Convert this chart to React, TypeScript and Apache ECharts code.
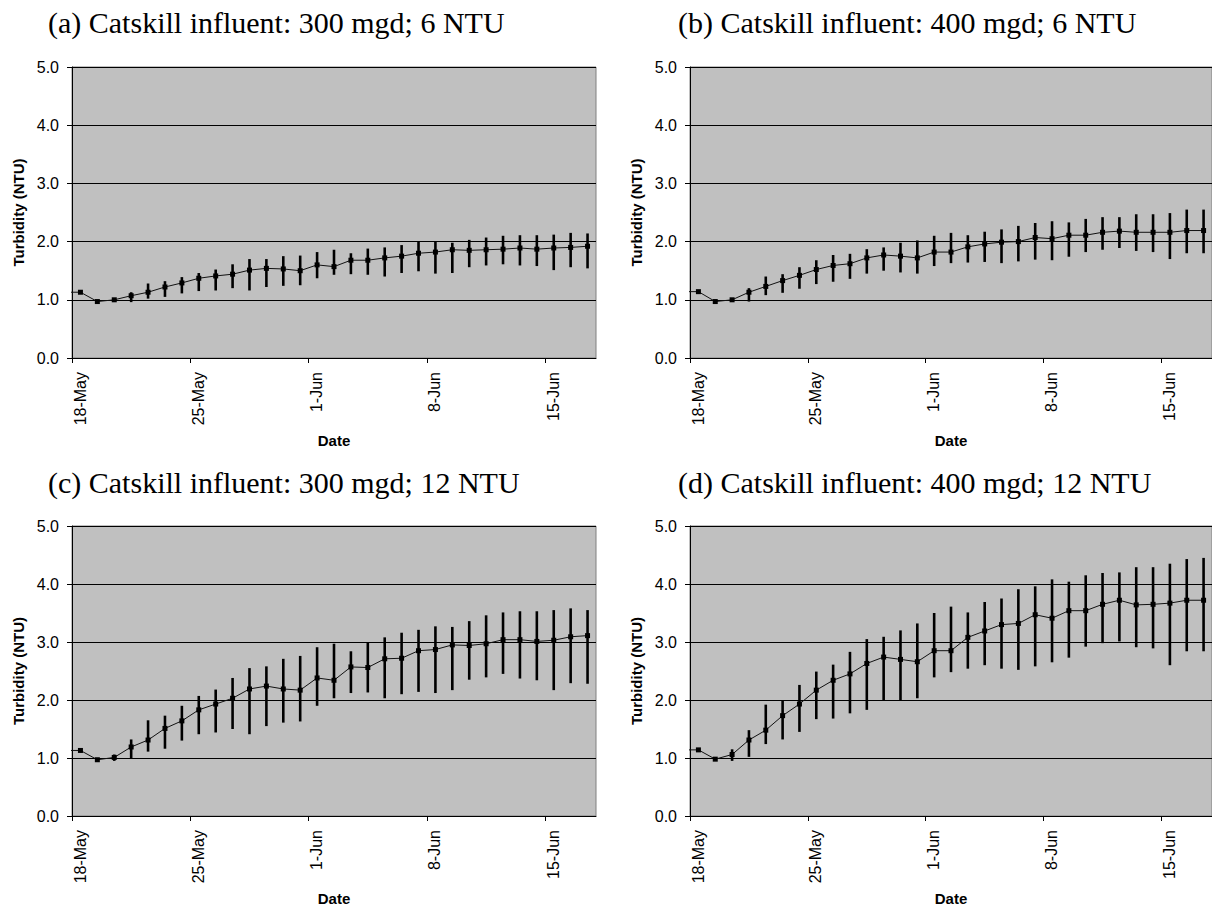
import { useEffect, useRef } from 'react';
import * as echarts from 'echarts';

// Dates: first entry (17-May) lies left of the axis and is clipped, giving the lead-in segment
const dates = [
  '17-May', '18-May', '19-May', '20-May', '21-May', '22-May', '23-May', '24-May', '25-May', '26-May',
  '27-May', '28-May', '29-May', '30-May', '31-May', '1-Jun', '2-Jun', '3-Jun', '4-Jun', '5-Jun',
  '6-Jun', '7-Jun', '8-Jun', '9-Jun', '10-Jun', '11-Jun', '12-Jun', '13-Jun', '14-Jun', '15-Jun',
  '16-Jun', '17-Jun',
];
const tickDays = [0, 7, 14, 21, 28];
const tickLabels = ['18-May', '25-May', '1-Jun', '8-Jun', '15-Jun'];

const titles = [
  '(a) Catskill influent: 300 mgd; 6 NTU',
  '(b) Catskill influent: 400 mgd; 6 NTU',
  '(c) Catskill influent: 300 mgd; 12 NTU',
  '(d) Catskill influent: 400 mgd; 12 NTU',
];

// (a) 300 mgd; 6 NTU
const aMean = [1.13, 1.13, 0.97, 1.0, 1.07, 1.13, 1.22, 1.29, 1.37, 1.41, 1.44, 1.51, 1.54, 1.53, 1.5, 1.6, 1.57, 1.68, 1.68, 1.72, 1.75, 1.8, 1.82, 1.86, 1.85, 1.86, 1.87, 1.89, 1.87, 1.89, 1.9, 1.92];
const aHigh = [1.14, 0.98, 1.02, 1.13, 1.28, 1.32, 1.39, 1.46, 1.52, 1.61, 1.7, 1.7, 1.75, 1.76, 1.82, 1.86, 1.8, 1.88, 1.9, 1.94, 2.0, 2.0, 1.98, 2.03, 2.07, 2.1, 2.11, 2.11, 2.12, 2.15, 2.14];
const aLow = [1.12, 0.96, 0.98, 0.96, 1.02, 1.05, 1.11, 1.15, 1.16, 1.2, 1.16, 1.22, 1.24, 1.25, 1.37, 1.43, 1.44, 1.43, 1.4, 1.46, 1.49, 1.45, 1.46, 1.56, 1.59, 1.61, 1.59, 1.58, 1.51, 1.56, 1.54];

// (b) 400 mgd; 6 NTU
const bMean = [1.14, 1.14, 0.97, 1.0, 1.13, 1.23, 1.33, 1.42, 1.52, 1.59, 1.62, 1.72, 1.77, 1.75, 1.72, 1.82, 1.82, 1.91, 1.96, 1.99, 2.0, 2.07, 2.05, 2.11, 2.11, 2.16, 2.18, 2.16, 2.16, 2.16, 2.19, 2.19];
const bHigh = [1.15, 0.98, 1.03, 1.2, 1.4, 1.44, 1.56, 1.68, 1.77, 1.79, 1.87, 1.9, 1.98, 2.02, 2.1, 2.15, 2.11, 2.17, 2.21, 2.27, 2.32, 2.35, 2.33, 2.39, 2.42, 2.42, 2.47, 2.47, 2.49, 2.55, 2.55];
const bLow = [1.13, 0.96, 0.98, 0.97, 1.08, 1.12, 1.19, 1.27, 1.31, 1.36, 1.45, 1.5, 1.47, 1.45, 1.58, 1.63, 1.64, 1.65, 1.63, 1.66, 1.69, 1.68, 1.74, 1.82, 1.86, 1.89, 1.84, 1.82, 1.7, 1.8, 1.8];

// (c) 300 mgd; 12 NTU
const cMean = [1.13, 1.13, 0.97, 1.01, 1.19, 1.31, 1.51, 1.64, 1.83, 1.93, 2.03, 2.19, 2.24, 2.19, 2.17, 2.38, 2.34, 2.57, 2.56, 2.71, 2.72, 2.85, 2.87, 2.95, 2.94, 2.97, 3.04, 3.04, 3.01, 3.03, 3.09, 3.11];
const cHigh = [1.14, 0.98, 1.06, 1.32, 1.65, 1.73, 1.9, 2.07, 2.18, 2.38, 2.55, 2.58, 2.71, 2.76, 2.91, 2.97, 2.84, 2.99, 3.08, 3.16, 3.21, 3.27, 3.26, 3.36, 3.46, 3.51, 3.53, 3.53, 3.55, 3.58, 3.55];
const cLow = [1.12, 0.96, 0.95, 0.99, 1.11, 1.16, 1.3, 1.41, 1.44, 1.5, 1.41, 1.55, 1.61, 1.63, 1.9, 2.03, 2.12, 2.13, 2.03, 2.1, 2.14, 2.12, 2.17, 2.35, 2.39, 2.45, 2.37, 2.34, 2.17, 2.29, 2.28];

// (d) 400 mgd; 12 NTU
const dMean = [1.14, 1.14, 0.98, 1.06, 1.31, 1.48, 1.73, 1.93, 2.17, 2.34, 2.45, 2.63, 2.74, 2.7, 2.66, 2.85, 2.85, 3.08, 3.19, 3.3, 3.32, 3.47, 3.41, 3.54, 3.54, 3.65, 3.72, 3.64, 3.65, 3.67, 3.72, 3.72];
const dHigh = [1.15, 0.99, 1.15, 1.48, 1.92, 1.99, 2.26, 2.49, 2.61, 2.83, 3.05, 3.09, 3.2, 3.32, 3.5, 3.61, 3.51, 3.69, 3.75, 3.91, 3.96, 4.08, 4.04, 4.15, 4.19, 4.2, 4.29, 4.29, 4.35, 4.43, 4.45];
const dLow = [1.13, 0.97, 0.95, 1.02, 1.24, 1.32, 1.45, 1.67, 1.68, 1.77, 1.83, 2.0, 2.0, 2.03, 2.39, 2.48, 2.54, 2.6, 2.54, 2.52, 2.58, 2.65, 2.73, 2.92, 2.98, 3.01, 2.91, 2.89, 2.6, 2.84, 2.84];

const means = [aMean, bMean, cMean, dMean];
const highs = [aHigh, bHigh, cHigh, dHigh];
const lows = [aLow, bLow, cLow, dLow];

const SANS = '"Liberation Sans", Arial, sans-serif';
const SERIF = '"Liberation Serif", "Times New Roman", serif';

const grids = [
  { left: 72, top: 67 },
  { left: 690, top: 67 },
  { left: 72, top: 526 },
  { left: 690, top: 526 },
];
const titlePos = [
  { x: 48, y: 22 },
  { x: 678, y: 22 },
  { x: 48, y: 482 },
  { x: 678, y: 482 },
];

export default function App() {
  const ref = useRef<HTMLDivElement>(null);

  useEffect(() => {
    if (!ref.current) return;
    const chart = echarts.init(ref.current, null, { renderer: 'svg' });

    const grid = grids.map((g) => ({
      left: g.left,
      top: g.top,
      width: 524,
      height: 291,
      show: true,
      backgroundColor: '#C0C0C0',
      borderColor: '#808080',
      borderWidth: 1,
    }));

    const xAxis = grids.map((_, k) => ({
      type: 'value',
      gridIndex: k,
      min: 0,
      max: 31,
      interval: 7,
      axisLine: { show: true, onZero: false, lineStyle: { color: '#000', width: 1 } },
      axisTick: { show: true, length: 5, customValues: tickDays, lineStyle: { color: '#000', width: 1 } },
      axisLabel: {
        customValues: tickDays,
        rotate: 90,
        margin: 14,
        verticalAlign: 'top',
        fontSize: 16,
        fontFamily: SANS,
        color: '#000',
        formatter: (v: number) => {
          const i = tickDays.indexOf(Math.round(v));
          return i >= 0 ? tickLabels[i] : '';
        },
      },
      splitLine: { show: false },
      name: 'Date',
      nameLocation: 'middle',
      nameGap: 75,
      nameTextStyle: { fontSize: 15, fontWeight: 'bold', fontFamily: SANS, color: '#000' },
    }));

    const yAxis = grids.map((_, k) => ({
      type: 'value',
      gridIndex: k,
      min: 0,
      max: 5,
      interval: 1,
      axisLine: { show: true, onZero: false, lineStyle: { color: '#000', width: 1 } },
      axisTick: { show: true, length: 5, lineStyle: { color: '#000', width: 1 } },
      axisLabel: {
        margin: 13,
        fontSize: 16,
        fontFamily: SANS,
        color: '#000',
        formatter: (v: number) => v.toFixed(1),
      },
      splitLine: { show: true, lineStyle: { color: '#000', width: 1 } },
      name: 'Turbidity (NTU)',
      nameLocation: 'middle',
      nameGap: 46,
      nameTextStyle: { fontSize: 15, fontWeight: 'bold', fontFamily: SANS, color: '#000' },
    }));

    const series: any[] = [];
    grids.forEach((_, k) => {
      series.push({
        type: 'custom',
        xAxisIndex: k,
        yAxisIndex: k,
        z: 2,
        encode: { x: 0, y: [1, 2] },
        data: highs[k].map((h, j) => [j + 0.5, h, lows[k][j]]),
        renderItem: (_params: any, api: any) => {
          const top = api.coord([api.value(0), api.value(1)]);
          const bot = api.coord([api.value(0), api.value(2)]);
          return {
            type: 'line',
            shape: { x1: top[0], y1: top[1], x2: bot[0], y2: bot[1] },
            style: { stroke: '#000', lineWidth: 2.6 },
          };
        },
      });
      series.push({
        type: 'line',
        xAxisIndex: k,
        yAxisIndex: k,
        z: 3,
        clip: true,
        data: dates.map((_d, i) => [i - 0.5, means[k][i]]),
        symbol: 'rect',
        symbolSize: 5,
        showSymbol: true,
        lineStyle: { color: '#111', width: 1 },
        itemStyle: { color: '#000' },
      });
    });

    const graphic = titles.map((t, k) => ({
      type: 'text',
      x: titlePos[k].x,
      y: titlePos[k].y,
      style: {
        text: t,
        fontSize: 30,
        fontFamily: SERIF,
        fill: '#000',
        align: 'left',
        verticalAlign: 'middle',
      },
    }));

    chart.setOption({
      animation: false,
      backgroundColor: '#fff',
      grid,
      xAxis,
      yAxis,
      series,
      graphic,
    } as any);

    return () => chart.dispose();
  }, []);

  return (
    <div
      ref={ref}
      style={{ position: 'absolute', left: 0, top: 0, width: 1212, height: 907 }}
    />
  );
}
